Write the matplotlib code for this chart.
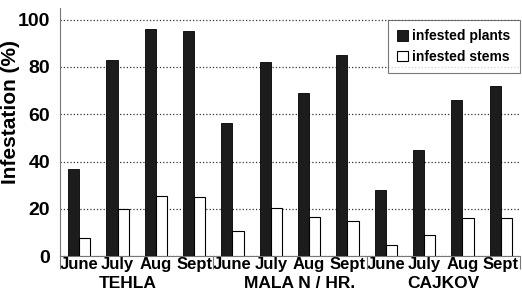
import numpy as np
import matplotlib.pyplot as plt

# values
months = ['June', 'July', 'Aug', 'Sept'] * 3
sites = ['TEHLA', 'MALA N / HR.', 'CAJKOV']
plants = [37, 83, 96, 95, 56.5, 82, 69, 85, 28, 45, 66, 72]
stems = [7.5, 20, 25.5, 25, 10.5, 20.5, 16.5, 15, 4.5, 9, 16, 16]

plt.rcParams['font.family'] = ['Liberation Sans', 'DejaVu Sans']
plt.rcParams['font.weight'] = 'bold'

fig = plt.figure(figsize=(5.22, 2.91), dpi=100)
ax = fig.add_axes([0.115, 0.12, 0.881, 0.853])

x = np.arange(len(months))
w = 0.29
ax.bar(x - w / 2, plants, w, color='#1c1c1c', edgecolor='black', lw=0.6,
       label='infested plants', zorder=3)
ax.bar(x + w / 2, stems, w, color='white', edgecolor='black', lw=0.8,
       label='infested stems', zorder=3)

ax.set_xlim(-0.5, 11.5)
ax.set_ylim(0, 105)
ax.set_yticks([0, 20, 40, 60, 80, 100])
ax.tick_params(axis='y', length=0, labelsize=14, pad=7)
ax.set_xticks(x)
ax.set_xticklabels(months, fontsize=12, fontweight='bold')
ax.tick_params(axis='x', length=0, pad=1)

# group boundary ticks below the axis
ax.set_xticks([-0.5, 3.5, 7.5, 11.5], minor=True)
ax.tick_params(axis='x', which='minor', length=9, color='#777', width=0.8)

for xc, s in zip([1.26, 5.74, 9.5], sites):
    ax.text(xc, -0.082, s, transform=ax.get_xaxis_transform(),
            ha='center', va='top', fontsize=12.5, fontweight='bold')

ax.set_ylabel('Infestation (%)', fontsize=15, fontweight='bold')
ax.yaxis.set_label_coords(-0.087, 0.58)

ax.grid(axis='y', color='#333', ls=':', lw=0.9, zorder=0)
for side in ['top', 'right']:
    ax.spines[side].set_visible(False)
ax.spines['left'].set_color('#777')
ax.spines['bottom'].set_color('#777')

leg = ax.legend(loc='upper right', bbox_to_anchor=(1.0, 100 / 105),
                borderaxespad=0, fontsize=10, frameon=True, fancybox=False,
                handlelength=0.8, handleheight=0.8, handletextpad=0.25,
                borderpad=0.7, labelspacing=0.45)
leg.get_frame().set_edgecolor('#555')
leg.get_frame().set_linewidth(0.8)
for t in leg.get_texts():
    t.set_fontweight('bold')

fig.savefig('out.png', dpi=100)
